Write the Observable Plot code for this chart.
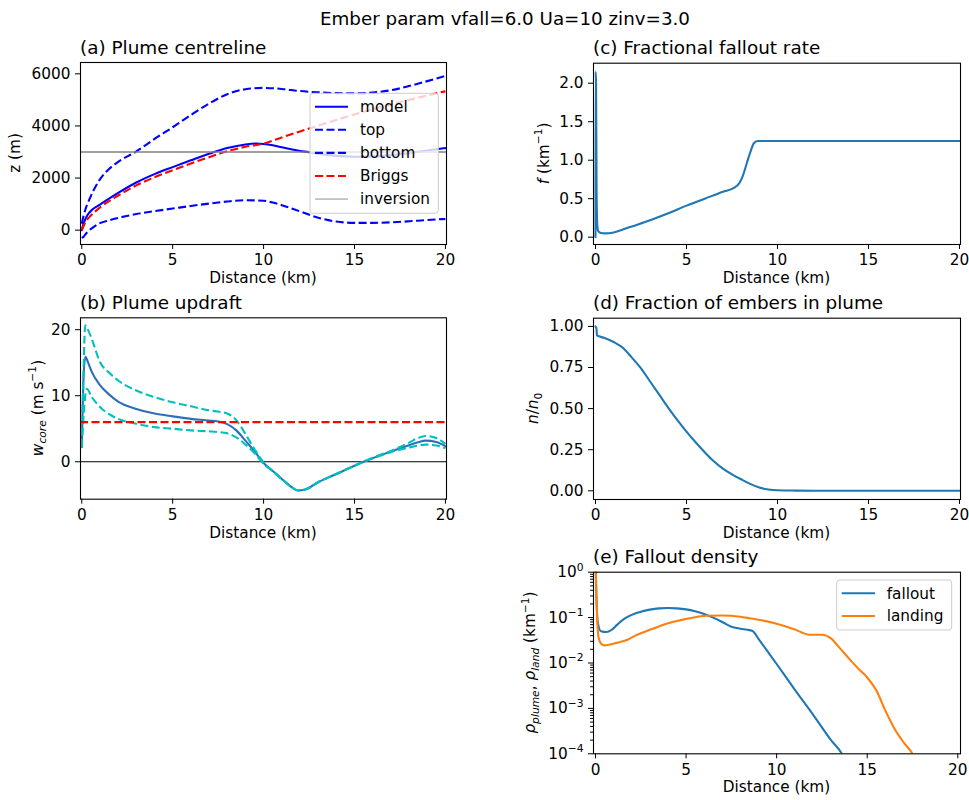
<!DOCTYPE html>
<html>
<head>
<meta charset="utf-8">
<script src="https://cdn.jsdelivr.net/npm/d3@7"></script>
<script src="https://cdn.jsdelivr.net/npm/@observablehq/plot@0.6"></script>
<style>
  body { margin: 0; background: #fff; }
  #fig { position: relative; width: 969px; height: 800px; background: #fff; font-family: "DejaVu Sans", sans-serif; overflow: hidden; }
  #suptitle { position: absolute; left: 0; top: 10px; width: 1010px; text-align: center; font-size: 18.3px; line-height: 1; color: #000; }
</style>
</head>
<body>
<div id="fig"><div id="suptitle">Ember param vfall=6.0 Ua=10 zinv=3.0</div></div>
<script>
// ---------------- data ----------------
const xTicks = [0, 5, 10, 15, 20];
const zTicks = [0, 2000, 4000, 6000];
const wTicks = [0, 10, 20];
const fTicks = [0, 0.5, 1.0, 1.5, 2.0];
const nTicks = [0, 0.25, 0.5, 0.75, 1.0];
const rhoTicks = [1e-4, 1e-3, 1e-2, 1e-1, 1];
const inversionHeight = 3000;
const vfall = 6.0;
const legendA = ["model", "top", "bottom", "Briggs", "inversion"];
const legendE = ["fallout", "landing"];

// (a) plume centreline, [distance km, z m]
const centreModel = [[0,0],[0.1,250],[0.3,560],[0.6,800],[1,980],[1.5,1210],[2,1430],[3,1830],[4,2150],[5,2420],[6,2680],[7,2930],[8,3150],[9,3290],[9.6,3325],[10,3310],[10.5,3260],[11,3180],[12,3040],[12.5,2990],[13,2930],[14,2850],[15,2820],[16,2830],[17,2880],[18,2960],[19,3060],[20,3150]];
const plumeTop = [[0,250],[0.1,550],[0.2,800],[0.4,1150],[0.7,1600],[1,1950],[1.5,2350],[2,2620],[3,3020],[4,3500],[5,3950],[6,4420],[7,4860],[8,5220],[9,5410],[10,5460],[11,5420],[12,5340],[13,5290],[14,5260],[15,5250],[16,5280],[17,5370],[18,5530],[19,5720],[20,5920]];
const plumeBottom = [[0,-300],[0.1,-250],[0.3,-80],[0.6,100],[1,270],[1.5,380],[2,470],[3,620],[4,730],[5,830],[6,930],[7,1020],[8,1100],[9,1150],[10,1130],[10.5,1060],[11,960],[12,720],[13,480],[14,330],[15,280],[16,280],[17,300],[18,340],[19,390],[20,430]];
const briggs = [[0,0],[0.2,300],[0.5,560],[1,870],[2,1330],[3,1720],[4,2030],[5,2300],[6,2560],[7,2800],[8,3030],[9,3200],[10,3320],[11,3560],[12,3790],[13,4010],[14,4230],[15,4440],[16,4640],[17,4830],[18,5000],[19,5170],[20,5330]];

// (b) plume updraft, [distance km, w m/s]
const wModel = [[0,2.2],[0.05,8],[0.1,13],[0.2,15.9],[0.35,15],[0.55,13.6],[1,11.6],[1.5,10.2],[2,9.1],[3,8.0],[4,7.3],[5,6.87],[6,6.5],[7,6.25],[7.5,6.1],[8,5.7],[8.5,4.75],[9,3.2],[9.5,1.6],[10,-0.2],[10.5,-1.4],[11,-2.6],[11.5,-3.75],[11.9,-4.35],[12.3,-4.2],[13,-3.1],[14,-1.85],[15,-0.6],[15.5,0],[16,0.55],[17,1.55],[18,2.5],[18.5,2.95],[18.9,3.2],[19.5,3.0],[20,2.36]];
const wUpper = [[0,2.2],[0.1,14],[0.19,20.65],[0.3,20.2],[0.55,18.6],[1,15.1],[1.5,13.5],[2,12.3],[3,10.8],[4,9.8],[5,9.0],[6,8.4],[7,7.8],[7.5,7.6],[8,7.3],[8.5,6.3],[9,4.2],[9.5,1.9],[10,-0.1],[10.5,-1.4],[11,-2.6],[11.5,-3.75],[11.9,-4.35],[12.3,-4.2],[13,-3.1],[14,-1.85],[15,-0.6],[15.5,0],[16,0.6],[17,1.65],[18,2.9],[18.5,3.6],[18.9,3.9],[19.5,3.6],[20,2.7]];
const wLower = [[0,2.2],[0.1,7],[0.27,11.06],[0.55,9.8],[1,8.3],[1.5,7.2],[2,6.5],[3,5.75],[4,5.25],[5,5.0],[6,4.75],[7,4.6],[7.5,4.5],[8,4.3],[8.5,3.7],[9,2.6],[9.5,1.3],[10,-0.3],[10.5,-1.4],[11,-2.6],[11.5,-3.75],[11.9,-4.35],[12.3,-4.2],[13,-3.1],[14,-1.85],[15,-0.6],[15.5,0],[16,0.5],[17,1.45],[18,2.15],[18.5,2.45],[18.9,2.6],[19.5,2.45],[20,2.06]];

// (c) fractional fallout rate, [distance km, f 1/km]
const fallRate = [[0,0],[0.005,2.15],[0.03,2.0],[0.06,0.6],[0.1,0.15],[0.15,0.08],[0.3,0.055],[0.5,0.05],[1,0.062],[1.5,0.1],[2,0.14],[3,0.22],[4,0.31],[5,0.41],[6,0.5],[7,0.59],[7.6,0.64],[7.9,0.7],[8.1,0.8],[8.3,0.95],[8.5,1.1],[8.7,1.22],[8.9,1.25],[20,1.25]];

// (d) fraction of embers in plume, [distance km, n/n0]
const inPlume = [[0,1.0],[0.05,0.99],[0.08,0.945],[0.5,0.93],[1,0.905],[1.5,0.87],[2,0.81],[2.5,0.745],[3,0.665],[3.5,0.585],[4,0.505],[4.5,0.43],[5,0.36],[5.5,0.295],[6,0.235],[6.5,0.18],[7,0.135],[7.5,0.1],[8,0.07],[8.5,0.042],[9,0.02],[9.5,0.008],[10,0.003],[11,0.001],[12,0],[20,0]];

// (e) fallout density, [distance km, rho 1/km]
const fallout = [[0,2],[0.05,0.3],[0.1,0.1],[0.15,0.07],[0.3,0.05],[0.6,0.048],[0.9,0.054],[1.2,0.07],[1.6,0.095],[2,0.115],[2.5,0.135],[3,0.15],[3.5,0.16],[4,0.163],[4.5,0.16],[5,0.152],[5.5,0.138],[6,0.12],[6.5,0.1],[7,0.08],[7.5,0.063],[8,0.057],[8.5,0.053],[8.7,0.05],[9,0.034],[10,0.0095],[11,0.0026],[12,0.00074],[13,0.0002],[13.6,0.0001],[13.8,0.00007]];
const landing = [[0,2],[0.05,0.3],[0.1,0.08],[0.18,0.035],[0.3,0.027],[0.5,0.0245],[0.8,0.0255],[1.2,0.028],[1.8,0.033],[2.2,0.04],[2.5,0.045],[3,0.054],[3.5,0.064],[4,0.075],[4.7,0.088],[5.5,0.102],[6.1,0.11],[7,0.111],[8,0.104],[8.5,0.097],[9,0.09],[10,0.073],[11,0.055],[11.8,0.042],[12.5,0.042],[13,0.035],[13.5,0.021],[14,0.0125],[14.5,0.0076],[15,0.0048],[15.5,0.0025],[16,0.0009],[16.5,0.00036],[17,0.00018],[17.5,0.0001],[17.7,0.00007]];

// ---------------- style ----------------
const FONT = '"DejaVu Sans", sans-serif';
const FS = 15.3, TFS = 18.4;
const C0 = "#1f77b4", C1 = "#ff7f0e";
const BLUE = "#0000ff", RED = "#ff0000", CYAN = "#00bfbf";
const DASH = "8,3.5";
const LW = 2.1;
const fig = document.getElementById("fig");

function line(data, stroke, dashed) {
  return Plot.line(data, {
    x: d => d[0], y: d => d[1], stroke, strokeWidth: LW,
    strokeDasharray: dashed ? DASH : undefined,
    strokeLinecap: dashed ? "butt" : "round",
    curve: "monotone-x", clip: true
  });
}

function addText(svg, {x, y, parts, size = FS, anchor = "middle", rotate = 0}) {
  const t = d3.select(svg).append("text")
    .attr("transform", `translate(${x},${y})` + (rotate ? ` rotate(${rotate})` : ""))
    .attr("text-anchor", anchor).attr("font-size", size)
    .attr("font-family", FONT).attr("fill", "black");
  let shift = 0;
  const list = typeof parts === "string" ? [{t: parts}] : parts;
  for (const p of list) {
    const target = p.sup ? -0.42 * size : p.sub ? 0.24 * size : 0;
    const ts = t.append("tspan").text(p.t);
    if (target !== shift) { ts.attr("dy", target - shift); shift = target; }
    if (p.sup || p.sub) ts.attr("font-size", 0.7 * size);
    if (p.it) ts.attr("font-style", "italic");
  }
}

function addLegend(svg, {box, hx, tx, y0, dy, labels, styles}) {
  const g = d3.select(svg).append("g");
  g.append("rect").attr("x", box[0]).attr("y", box[1]).attr("width", box[2] - box[0]).attr("height", box[3] - box[1])
    .attr("rx", 3).attr("fill", "white").attr("fill-opacity", 0.8).attr("stroke", "#cccccc").attr("stroke-width", 1);
  labels.forEach((lab, i) => {
    const s = styles[i], y = y0 + i * dy;
    g.append("line").attr("x1", hx[0]).attr("x2", hx[1]).attr("y1", y).attr("y2", y)
      .attr("stroke", s.color).attr("stroke-width", s.w || LW).attr("stroke-dasharray", s.dash ? DASH : null);
    g.append("text").attr("x", tx).attr("y", y).attr("dy", "0.35em").attr("font-size", FS)
      .attr("text-anchor", "start").attr("font-family", FONT).attr("fill", "black").text(lab);
  });
}

function panel(o) {
  const [ml, mr, mt, mb] = o.m;
  const svg = Plot.plot({
    width: o.w, height: o.h,
    marginLeft: ml, marginRight: mr, marginTop: mt, marginBottom: mb,
    style: {fontFamily: FONT, fontSize: FS + "px", color: "black", background: "transparent", overflow: "visible"},
    x: {domain: o.xd, label: null},
    y: {domain: o.yd, type: o.ytype || "linear", label: null},
    marks: [
      ...o.marks,
      Plot.frame({stroke: "black", strokeWidth: 1.1}),
      Plot.axisX({ticks: xTicks, tickSize: 5, tickPadding: 5, label: null}),
      Plot.axisY({ticks: o.yticks, tickSize: 5, tickPadding: 5, tickFormat: o.yfmt, label: null}),
      ...(o.extra || [])
    ]
  });
  svg.style.position = "absolute";
  svg.style.left = o.x + "px";
  svg.style.top = o.y + "px";
  fig.appendChild(svg);
  const fl = ml, fr = o.w - mr, ft = mt, fb = o.h - mb;
  addText(svg, {x: fl, y: ft - 8.5, parts: o.title, size: TFS, anchor: "start"});
  addText(svg, {x: (fl + fr) / 2, y: fb + 39, parts: "Distance (km)"});
  addText(svg, {x: o.ylx, y: (ft + fb) / 2, parts: o.ylabel, rotate: -90});
  return svg;
}

const plain = d => String(d);

// (a)
const svgA = panel({
  x: 0, y: 30, w: 480, h: 260, m: [80, 34, 32, 46],
  xd: [-0.07, 20.06], yd: [-550, 6435], yticks: zTicks, yfmt: plain,
  title: "(a) Plume centreline", ylx: 19.6, ylabel: "z (m)",
  marks: [
    line(centreModel, BLUE, false),
    line(plumeTop, BLUE, true),
    line(plumeBottom, BLUE, true),
    line(briggs, RED, true),
    Plot.ruleY([inversionHeight], {stroke: "#808080", strokeWidth: 1.6})
  ]
});
addLegend(svgA, {
  box: [310, 63.3, 438.3, 183.3], hx: [315, 348], tx: 360, y0: 76.7, dy: 23.1, labels: legendA,
  styles: [{color: BLUE}, {color: BLUE, dash: true}, {color: BLUE, dash: true}, {color: RED, dash: true}, {color: "#c0c0c0", w: 1.6}]
});

// (c)
panel({
  x: 500, y: 30, w: 469, h: 260, m: [93, 9, 32.7, 46],
  xd: [-0.11, 20.055], yd: [-0.095, 2.26], yticks: fTicks, yfmt: d3.format(".1f"),
  title: "(c) Fractional fallout rate", ylx: 48.6,
  ylabel: [{t: "f", it: true}, {t: " (km"}, {t: "\u22121", sup: true}, {t: ")"}],
  marks: [line(fallRate, C0, false)]
});

// (b)
panel({
  x: 0, y: 290, w: 480, h: 255, m: [80, 34, 27.3, 46.3],
  xd: [-0.07, 20.06], yd: [-5.67, 21.8], yticks: wTicks, yfmt: plain,
  title: "(b) Plume updraft", ylx: 42.5,
  ylabel: [{t: "w", it: true}, {t: "core", it: true, sub: true}, {t: " (m s"}, {t: "\u22121", sup: true}, {t: ")"}],
  marks: [
    Plot.ruleY([0], {stroke: "black", strokeWidth: 1}),
    line(wModel, "#2f6fba", false),
    line(wUpper, CYAN, true),
    line(wLower, CYAN, true),
    Plot.ruleY([vfall], {stroke: RED, strokeWidth: LW, strokeDasharray: DASH})
  ]
});

// (d)
panel({
  x: 500, y: 290, w: 469, h: 255, m: [93, 9, 27.7, 46],
  xd: [-0.11, 20.055], yd: [-0.053, 1.05], yticks: nTicks, yfmt: d3.format(".2f"),
  title: "(d) Fraction of embers in plume", ylx: 38,
  ylabel: [{t: "n", it: true}, {t: "/"}, {t: "n", it: true}, {t: "0", sub: true}],
  marks: [line(inPlume, C0, false)]
});

// (e)
const minorTicks = [];
for (let e = -4; e < 0; e++) for (let k = 2; k <= 9; k++) minorTicks.push(k * Math.pow(10, e));
const svgE = panel({
  x: 500, y: 545, w: 469, h: 255, m: [93, 9, 26.7, 46.7],
  xd: [-0.11, 20.15], yd: [1e-4, 1], ytype: "log", yticks: rhoTicks,
  yfmt: d => "10^" + Math.round(Math.log10(d)),
  title: "(e) Fallout density", ylx: 35,
  ylabel: [{t: "\u03c1", it: true}, {t: "plume", it: true, sub: true}, {t: ", "}, {t: "\u03c1", it: true}, {t: "land", it: true, sub: true}, {t: " (km"}, {t: "\u22121", sup: true}, {t: ")"}],
  marks: [line(fallout, C0, false), line(landing, C1, false)],
  extra: [Plot.axisY({ticks: minorTicks, tickSize: 2.9, tickFormat: () => "", label: null})]
});
d3.select(svgE).selectAll("text").each(function () {
  const s = this.textContent;
  const m = /^10\^(-?\d+)$/.exec(s);
  if (!m) return;
  const el = d3.select(this);
  el.text("");
  el.append("tspan").text("10");
  el.append("tspan").attr("dy", -0.42 * FS).attr("font-size", 0.7 * FS).text(m[1].replace("-", "\u2212"));
});
addLegend(svgE, {
  box: [336.7, 35, 451.7, 85], hx: [341.7, 375], tx: 386.7, y0: 48.3, dy: 22.7, labels: legendE,
  styles: [{color: C0}, {color: C1}]
});
</script>
</body>
</html>
